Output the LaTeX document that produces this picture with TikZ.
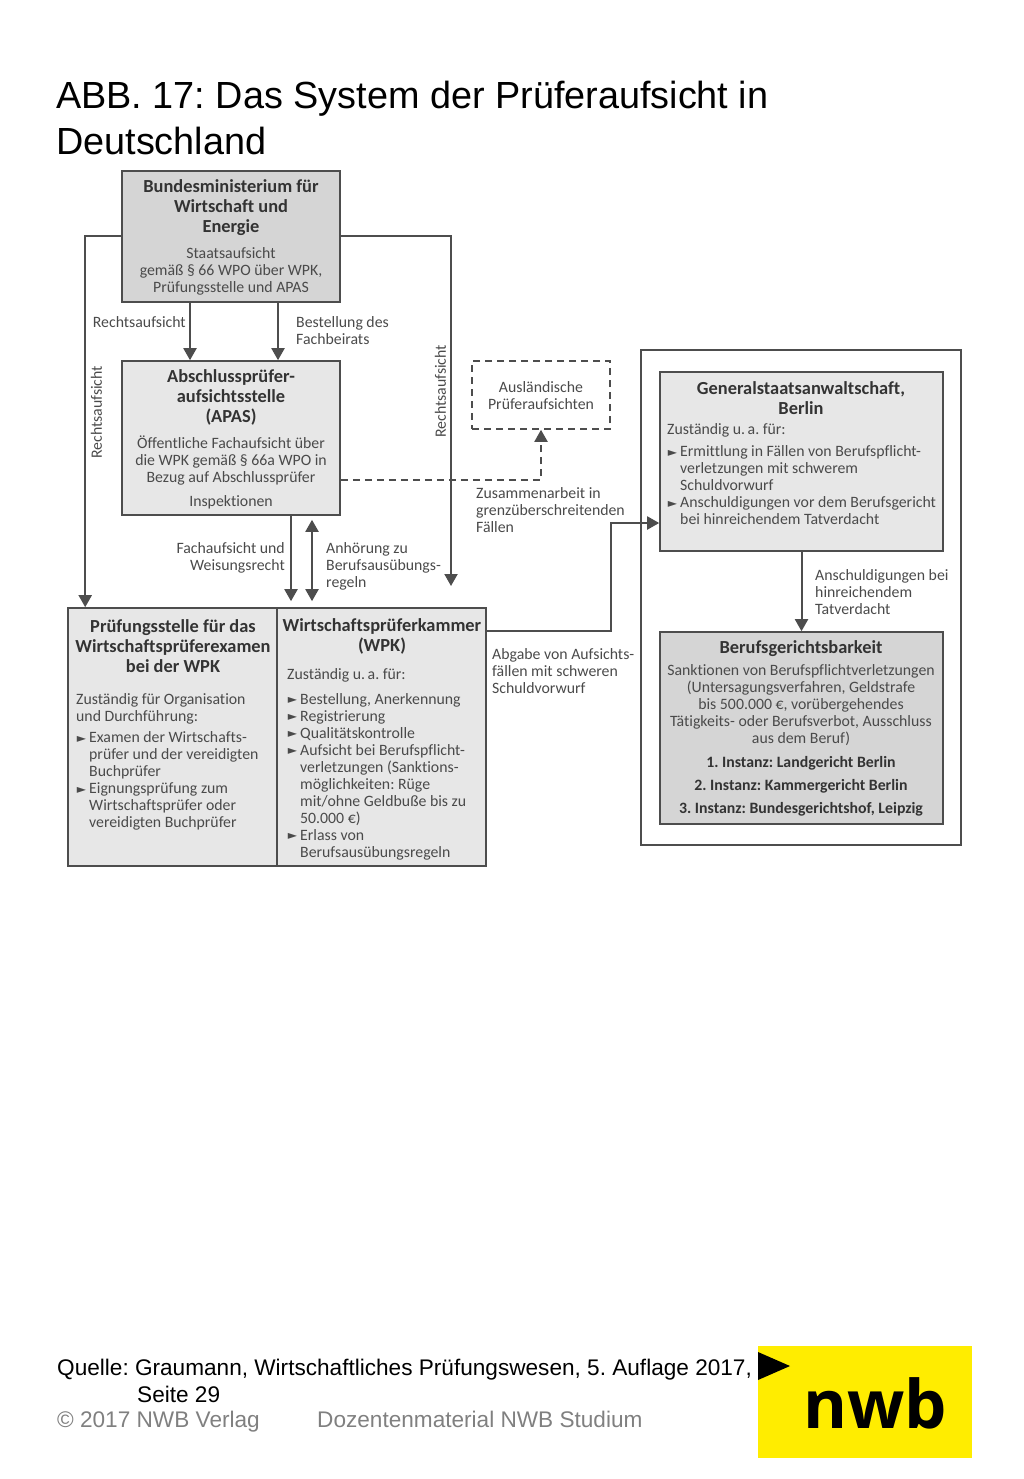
\documentclass[tikz,border=0pt]{standalone}
\usepackage{fontspec}
\setmainfont{Carlito}[Ligatures=NoCommon]
\newfontfamily\titlefont{Liberation Sans}
\newfontfamily\logofont{Open Sans}
\newfontfamily\bulletfont{DejaVu Sans}
\usetikzlibrary{calc, positioning}
\usetikzlibrary{arrows.meta}
\definecolor{inkgray}{HTML}{4A4A4A}
\definecolor{headgray}{HTML}{333333}
\definecolor{linegray}{HTML}{4D4D4D}
\definecolor{darkfill}{HTML}{D5D5D5}
\definecolor{lightfill}{HTML}{E7E7E7}
\definecolor{logoyellow}{HTML}{FFED00}
\definecolor{footgray}{HTML}{808080}
\newcommand{\bul}{\makebox[0pt][r]{\raisebox{0.5pt}{\bulletfont\fontsize{12}{12}\selectfont ►}\hspace{3pt}}}
\frenchspacing
\tikzset{
  boxnode/.style={draw=linegray, line width=1.6pt, inner sep=0pt},
  conn/.style={draw=linegray, line width=2pt, -{Triangle[length=12pt,width=13pt]}},
  bodytext/.style={text=inkgray, inner sep=0pt, yshift=-0.4pt, font=\fontsize{15.8}{17}\selectfont},
  headtext/.style={text=headgray, inner sep=0pt, yshift=-1.2pt, align=center, font=\bfseries\fontsize{18.4}{20}\selectfont},
  boldline/.style={text=headgray, inner sep=0pt, yshift=-0.4pt, font=\bfseries\fontsize{15.8}{17}\selectfont},
  slide/.style={inner sep=0pt, anchor=base west, font=\titlefont\fontsize{37.8}{46}\selectfont},
  foot/.style={inner sep=0pt, anchor=base west, font=\titlefont\fontsize{22.6}{27}\selectfont}
}
\begin{document}
\begin{tikzpicture}[x=1pt,y=-1pt]
\useasboundingbox (0,0) rectangle (1024,1479);

% slide title
\node[slide] (Title1) at (56,109) {ABB. 17: Das System der Prüferaufsicht in};
\node[slide] (Title2) at (56,155) {Deutschland};

% boxes
\node[boxnode, fill=darkfill, minimum width=218pt, minimum height=131pt] (BMWi) at (231,236.5) {};
\node[boxnode, fill=lightfill, minimum width=218pt, minimum height=154pt] (APAS) at (231,438) {};
\node[boxnode, fill=lightfill, minimum width=209pt, minimum height=258pt] (Pruef) at (172.5,737) {};
\node[boxnode, fill=lightfill, minimum width=209pt, minimum height=258pt] (WPK) at (381.5,737) {};
\node[boxnode, dash pattern=on 7pt off 5pt, minimum width=138pt, minimum height=68pt] (Ausl) at (541,395) {};
\node[boxnode, minimum width=320pt, minimum height=495pt] (Outer) at (801,597.5) {};
\node[boxnode, fill=lightfill, minimum width=283pt, minimum height=179pt] (GStA) at (801.5,461.5) {};
\node[boxnode, fill=darkfill, minimum width=283pt, minimum height=192pt] (BG) at (801.5,728) {};

% free ends and bends
\coordinate (RightEnd) at (451,586);
\coordinate (Bend) at (611,523);

% connectors
\draw[conn] (BMWi.west) -| ($(Pruef.north west)+(18,0)$);
\draw[conn] (BMWi.east) -| (RightEnd);
\draw[conn] ($(BMWi.south)+(-41,0)$) -- ($(APAS.north)+(-41,0)$);
\draw[conn] ($(BMWi.south)+(47,0)$) -- ($(APAS.north)+(47,0)$);
\draw[conn] ($(APAS.south)+(60,0)$) -- ($(WPK.north)+(-90.5,-6)$);
\draw[conn, {Triangle[length=12pt,width=13pt]}-{Triangle[length=12pt,width=13pt]}] ($(APAS.south)+(81,4)$) -- ($(WPK.north)+(-69.5,-6)$);
\draw[conn, dash pattern=on 7pt off 5pt] ($(APAS.south east)+(0,-36)$) -| (Ausl.south);
\draw[conn] ($(WPK.north east)+(0,24)$) -| (Bend) -- (Bend -| GStA.west);
\draw[conn] (GStA.south) -- (BG.north);

% texts in the boxes
\node[headtext] (BMWiHead) at (231,206) {Bundesministerium für\\Wirtschaft und\\Energie};
\node[bodytext, align=center] (BMWiText) at (231,270.5) {Staatsaufsicht\\gemäß § 66 WPO über WPK,\\Prüfungsstelle und APAS};
\node[headtext] (APASHead) at (231,396) {Abschlussprüfer-\\aufsichtsstelle\\(APAS)};
\node[bodytext, align=center] (APASText) at (231,460.5) {Öffentliche Fachaufsicht über\\die WPK gemäß § 66a WPO in\\Bezug auf Abschlussprüfer};
\node[bodytext] (APASInsp) at (231,502) {Inspektionen};
\node[headtext] (PruefHead) at (173,644.5) {Prüfungsstelle für das\\Wirtschaftsprüferexamen\\bei der WPK};
\node[bodytext, align=left, anchor=west] (PruefIntro) at (76,708.5) {Zuständig für Organisation\\und Durchführung:};
\node[bodytext, align=left, anchor=west] (PruefList) at (89,780.5) {\bul Examen der Wirtschafts-\\prüfer und der vereidigten\\Buchprüfer\\\bul Eignungsprüfung zum\\Wirtschaftsprüfer oder\\vereidigten Buchprüfer};
\node[headtext] (WPKHead) at (382,635) {Wirtschaftsprüferkammer\\(WPK)};
\node[bodytext, anchor=west] (WPKIntro) at (287,675) {Zuständig u.\,a. für:};
\node[bodytext, align=left, anchor=west] (WPKList) at (300,776) {\bul Bestellung, Anerkennung\\\bul Registrierung\\\bul Qualitätskontrolle\\\bul Aufsicht bei Berufspflicht-\\verletzungen (Sanktions-\\möglichkeiten: Rüge\\mit/ohne Geldbuße bis zu\\50.000 €)\\\bul Erlass von\\Berufsausübungsregeln};
\node[bodytext, align=center] (AuslText) at (541,395.5) {Ausländische\\Prüferaufsichten};
\node[headtext] (GStAHead) at (801,397) {Generalstaatsanwaltschaft,\\Berlin};
\node[bodytext, anchor=west] (GStAIntro) at (667,430) {Zuständig u.\,a. für:};
\node[bodytext, align=left, anchor=west] (GStAList) at (680,485) {\bul Ermittlung in Fällen von Berufspflicht-\\verletzungen mit schwerem\\Schuldvorwurf\\\bul Anschuldigungen vor dem Berufsgericht\\bei hinreichendem Tatverdacht};
\node[headtext] (BGHead) at (801,647) {Berufsgerichtsbarkeit};
\node[bodytext, align=center] (BGText) at (801,705) {Sanktionen von Berufspflichtverletzungen\\(Untersagungsverfahren, Geldstrafe\\bis 500.000 €, vorübergehendes\\Tätigkeits- oder Berufsverbot, Ausschluss\\aus dem Beruf)};
\node[boldline] (BG1) at (801,763) {1. Instanz: Landgericht Berlin};
\node[boldline] (BG2) at (801,786) {2. Instanz: Kammergericht Berlin};
\node[boldline] (BG3) at (801,809) {3. Instanz: Bundesgerichtshof, Leipzig};

% connector labels
\node[bodytext, anchor=east] (LblRecht) at (186,322) {Rechtsaufsicht};
\node[bodytext, align=left, anchor=west] (LblBest) at (296,330.5) {Bestellung des\\Fachbeirats};
\node[bodytext, rotate=90] (LblLeft) at (96.5,412) {Rechtsaufsicht};
\node[bodytext, rotate=90] (LblRight) at (440.5,391) {Rechtsaufsicht};
\node[bodytext, align=right, anchor=east] (LblFach) at (285,557.5) {Fachaufsicht und\\Weisungsrecht};
\node[bodytext, align=left, anchor=west] (LblAnh) at (326,566) {Anhörung zu\\Berufsausübungs-\\regeln};
\node[bodytext, align=left, anchor=west] (LblZus) at (476,510) {Zusammenarbeit in\\grenzüberschreitenden\\Fällen};
\node[bodytext, align=left, anchor=west] (LblAbg) at (492,671) {Abgabe von Aufsichts-\\fällen mit schweren\\Schuldvorwurf};
\node[bodytext, align=left, anchor=west] (LblAnsch) at (815,592) {Anschuldigungen bei\\hinreichendem\\Tatverdacht};

% footer
\node[foot] (Quelle) at (57,1375.5) {Quelle: Graumann, Wirtschaftliches Prüfungswesen, 5. Auflage 2017,};
\node[foot] (Seite) at (137,1402.5) {Seite 29};
\node[foot, text=footgray] (Copy) at (57,1427.5) {© 2017 NWB Verlag};
\node[foot, text=footgray] (Dozent) at (317,1427.5) {Dozentenmaterial NWB Studium};

% logo
\fill[logoyellow] (758,1346) rectangle (972,1458);
\fill[black] (758,1352) -- (790,1366) -- (758,1380) -- cycle;
\node[inner sep=0pt, anchor=base, font=\logofont\bfseries\fontsize{67}{67}\selectfont] (Logo) at (875.5,1428) {nwb};
\end{tikzpicture}
\end{document}
